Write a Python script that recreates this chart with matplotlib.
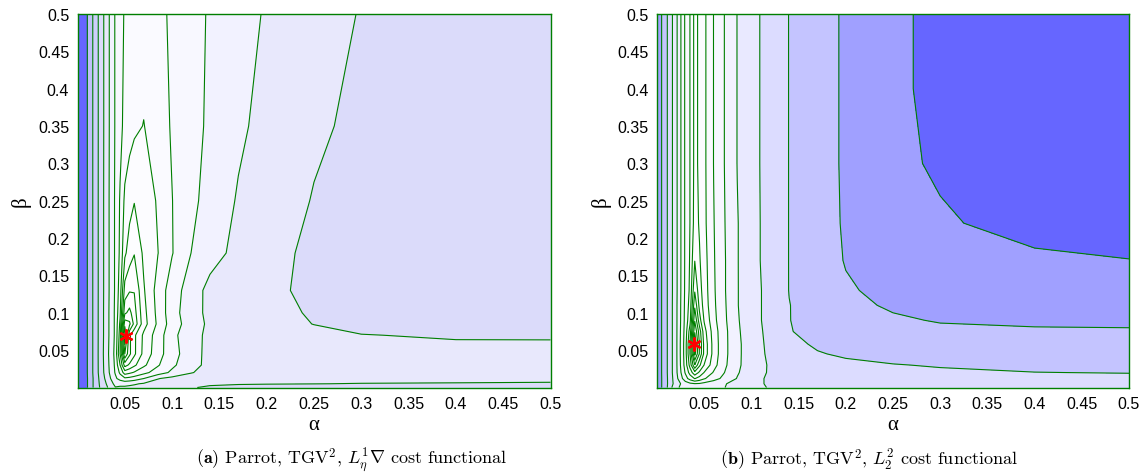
import numpy as np
import matplotlib
matplotlib.use("Agg")
import matplotlib.pyplot as plt

plt.rcParams['mathtext.fontset'] = 'cm'
plt.rcParams['font.family'] = ['Liberation Sans', 'DejaVu Sans']

# ---- panel (a): grid nodes and cost level ----
alpha_a = [0, 0.02, 0.04, 0.045, 0.05, 0.055, 0.06, 0.07, 0.085, 0.1,
           0.12, 0.14, 0.17, 0.2, 0.25, 0.3, 0.4, 0.5]
beta_a = [0, 0.005, 0.012, 0.02, 0.03, 0.045, 0.07, 0.085, 0.1, 0.13,
          0.18, 0.25, 0.35, 0.5]
level_a = [
    [15.8, 12.4, 10.05, 10.1, 10.15, 10.2, 10.25, 10.35, 10.55, 10.75, 10.95, 11.1, 11.2, 11.25, 11.3, 11.3, 11.3, 11.3],
    [15.8, 12.4, 9.7, 9.8, 9.7, 9.8, 9.9, 10.1, 10.4, 10.6, 10.8, 10.9, 10.95, 10.97, 10.99, 11.02, 11.04, 11.06],
    [15.8, 12.4, 9.2, 8.6, 8.2, 8.3, 8.5, 9.0, 9.95, 10.3, 10.45, 10.55, 10.65, 10.7, 10.75, 10.8, 10.82, 10.85],
    [15.8, 12.33, 8.9, 7.8, 6.5, 6.8, 7.1, 7.7, 8.5, 9.2, 9.95, 10.3, 10.45, 10.5, 10.55, 10.6, 10.65, 10.7],
    [15.8, 12.33, 8.8, 7.0, 4.6, 5.2, 5.8, 6.8, 7.9, 8.8, 9.7, 10.25, 10.4, 10.5, 10.52, 10.55, 10.6, 10.62],
    [15.8, 12.33, 8.7, 6.0, 2.0, 3.8, 4.8, 6.3, 7.6, 8.6, 9.6, 10.3, 10.45, 10.5, 10.55, 10.6, 10.68, 10.7],
    [15.8, 12.33, 8.8, 6.5, 0.0, 3.8, 4.8, 6.2, 7.5, 8.7, 9.7, 10.2, 10.4, 10.5, 10.7, 10.97, 11.1, 11.1],
    [15.8, 12.33, 8.8, 6.8, 1.3, 1.8, 3.3, 5.6, 7.2, 8.5, 9.5, 10.2, 10.45, 10.6, 11.02, 11.3, 11.45, 11.5],
    [15.8, 12.33, 8.8, 7.2, 3.2, 2.7, 3.6, 5.7, 7.3, 8.6, 9.6, 10.25, 10.5, 10.7, 11.1, 11.35, 11.45, 11.5],
    [15.8, 12.33, 8.85, 7.5, 4.6, 4.1, 4.05, 5.9, 7.4, 8.5, 9.5, 10.3, 10.6, 10.8, 11.2, 11.35, 11.45, 11.5],
    [15.8, 12.33, 8.85, 7.8, 6.2, 5.5, 5.05, 6.2, 6.98, 7.95, 9.0, 9.6, 10.3, 10.7, 11.2, 11.35, 11.45, 11.5],
    [15.8, 12.33, 8.85, 7.9, 6.8, 6.4, 6.05, 6.2, 7.15, 7.98, 8.8, 9.3, 10.1, 10.5, 11.05, 11.3, 11.45, 11.5],
    [15.8, 12.33, 8.9, 8.3, 7.7, 7.4, 7.2, 6.97, 7.5, 8.1, 8.7, 9.15, 9.8, 10.35, 10.85, 11.2, 11.4, 11.5],
    [15.8, 12.33, 8.9, 8.35, 7.9, 7.7, 7.6, 7.5, 7.75, 8.15, 8.65, 9.1, 9.6, 10.1, 10.6, 11.05, 11.4, 11.5],
]
best_a = (0.051, 0.069)

# ---- panel (b) ----
alpha_b = [0, 0.01, 0.02, 0.03, 0.035, 0.04, 0.045, 0.05, 0.06, 0.07,
           0.085, 0.1, 0.12, 0.14, 0.17, 0.2, 0.25, 0.3, 0.4, 0.5]
beta_b = [0, 0.005, 0.012, 0.02, 0.03, 0.045, 0.058, 0.075, 0.09, 0.11,
          0.13, 0.17, 0.22, 0.3, 0.4, 0.5]
level_b = [
    [13.8, 12.2, 10.1, 9.8, 9.7, 9.6, 9.65, 9.7, 9.8, 9.95, 10.3, 10.8, 11.05, 11.25, 11.4, 11.5, 11.58, 11.62, 11.68, 11.7],
    [13.8, 12.2, 10.5, 9.5, 9.2, 9.05, 9.1, 9.3, 9.6, 9.9, 10.3, 10.8, 11.1, 11.3, 11.45, 11.55, 11.62, 11.68, 11.72, 11.75],
    [13.8, 12.2, 10.4, 8.4, 7.6, 6.95, 7.4, 7.9, 8.6, 9.2, 10.05, 10.7, 11.15, 11.35, 11.5, 11.6, 11.7, 11.75, 11.8, 11.85],
    [13.8, 12.17, 10.3, 7.9, 6.6, 5.3, 6.2, 7.05, 8.1, 8.9, 9.9, 10.6, 11.1, 11.4, 11.6, 11.72, 11.82, 11.9, 11.99, 12.02],
    [13.8, 12.17, 10.3, 7.6, 5.6, 3.02, 4.8, 6.05, 7.6, 8.7, 9.8, 10.55, 11.1, 11.45, 11.7, 11.85, 11.97, 12.05, 12.15, 12.2],
    [13.8, 12.17, 10.3, 7.5, 4.95, 0.7, 3.1, 5.3, 7.4, 8.6, 9.8, 10.5, 11.2, 11.65, 11.95, 12.1, 12.25, 12.35, 12.45, 12.5],
    [13.8, 12.17, 10.3, 7.5, 4.9, 0.0, 3.05, 5.3, 7.4, 8.6, 9.8, 10.5, 11.25, 11.8, 12.1, 12.35, 12.55, 12.65, 12.75, 12.78],
    [13.8, 12.17, 10.3, 7.6, 5.5, 1.1, 3.5, 5.6, 7.5, 8.6, 9.85, 10.55, 11.3, 11.95, 12.3, 12.55, 12.75, 12.85, 12.93, 12.95],
    [13.8, 12.17, 10.3, 7.7, 6.3, 2.1, 4.6, 6.1, 7.7, 8.7, 9.9, 10.6, 11.35, 11.98, 12.35, 12.65, 12.9, 13.05, 13.1, 13.1],
    [13.8, 12.17, 10.3, 7.75, 6.6, 3.2, 5.3, 6.4, 7.8, 8.75, 9.95, 10.6, 11.35, 11.98, 12.4, 12.8, 13.1, 13.25, 13.35, 13.4],
    [13.8, 12.17, 10.33, 7.8, 6.8, 4.1, 5.6, 6.5, 7.85, 8.8, 9.95, 10.6, 11.35, 12.02, 12.5, 12.9, 13.25, 13.4, 13.6, 13.65],
    [13.8, 12.17, 10.33, 7.83, 6.9, 5.02, 5.9, 6.6, 7.9, 8.8, 9.95, 10.65, 11.4, 12.02, 12.55, 13.05, 13.4, 13.6, 13.85, 13.98],
    [13.8, 12.17, 10.33, 7.83, 6.98, 5.6, 6.1, 6.75, 7.95, 8.85, 9.95, 10.65, 11.4, 12.02, 12.6, 13.1, 13.5, 13.9, 14.3, 14.45],
    [13.8, 12.17, 10.33, 7.83, 6.98, 5.7, 6.2, 6.78, 8.02, 8.9, 10.02, 10.68, 11.4, 12.02, 12.6, 13.13, 13.8, 14.12, 14.45, 14.65],
    [13.8, 12.17, 10.33, 7.83, 6.98, 5.7, 6.2, 6.78, 8.02, 8.9, 10.02, 10.68, 11.4, 12.02, 12.6, 13.13, 13.85, 14.2, 14.5, 14.7],
    [13.8, 12.17, 10.33, 7.83, 6.98, 5.7, 6.2, 6.78, 8.02, 8.9, 10.02, 10.68, 11.4, 12.02, 12.6, 13.13, 13.85, 14.2, 14.5, 14.7],
]
best_b = (0.039, 0.058)

line_levels = list(range(1, 15))
band_edges = [-1] + line_levels + [20]

# fill colour of each band, lowest first
colors_a = ['#FFFFFF', '#FFFFFF', '#FFFFFF', '#FEFEFF', '#FEFEFF', '#FDFDFF', '#FCFCFF',
            '#FAFAFF', '#F8F8FF', '#F2F2FF', '#E8E8FC', '#DBDBFA', '#CECEFC', '#C0C0F8', '#6666FF']
colors_b = ['#FFFFFF', '#FFFFFF', '#FEFEFF', '#FEFEFF', '#FDFDFF', '#FDFDFF', '#FCFCFF',
            '#FAFAFF', '#F7F7FF', '#F2F2FF', '#E9E9FF', '#DCDCFF', '#C4C4FF', '#A0A0FF', '#6666FF']

ticks = [0.05, 0.1, 0.15, 0.2, 0.25, 0.3, 0.35, 0.4, 0.45, 0.5]
tick_labels = ['0.05', '0.1', '0.15', '0.2', '0.25', '0.3', '0.35', '0.4', '0.45', '0.5']

captions = [r'$\mathbf{(a)}$ Parrot, TGV$^2$, $L^1_\eta\nabla$ cost functional',
            r'$\mathbf{(b)}$ Parrot, TGV$^2$, $L^2_2$ cost functional']

green = '#007F00'

fig = plt.figure(figsize=(11.45, 4.77), dpi=100)
W, H = 1145.0, 477.0
ax1 = fig.add_axes([77.5 / W, 88.5 / H, 473 / W, 373.5 / H])
ax2 = fig.add_axes([657 / W, 88.5 / H, 472 / W, 373.5 / H])

panels = [(ax1, alpha_a, beta_a, level_a, colors_a, best_a),
          (ax2, alpha_b, beta_b, level_b, colors_b, best_b)]

for i, (ax, al, be, lev, cols, best) in enumerate(panels):
    X, Y = np.meshgrid(al, be)
    Z = np.array(lev)
    ax.contourf(X, Y, Z, levels=band_edges, colors=cols)
    ax.contour(X, Y, Z, levels=line_levels, colors=green, linewidths=0.8,
               linestyles='solid')
    ax.plot(best[0], best[1], marker=(6, 2, 0), color='red', markersize=10,
            markeredgewidth=1.6, linestyle='none')
    ax.set_xlim(0, 0.5)
    ax.set_ylim(0, 0.5)
    ax.set_xticks(ticks)
    ax.set_xticklabels(tick_labels)
    ax.set_yticks(ticks)
    ax.set_yticklabels(tick_labels)
    ax.tick_params(length=0, labelsize=11.5, pad=6)
    for s in ax.spines.values():
        s.set_color(green)
        s.set_linewidth(1.0)
    ax.set_xlabel('α', fontsize=15, labelpad=3, family='Liberation Serif')
    ax.set_ylabel('β', fontsize=15, labelpad=5, family='Liberation Serif')
    cx = ax.get_position().x0 + ax.get_position().width / 2
    fig.text(cx + (38 if i == 0 else -24) / W, 1 - 460 / H, captions[i],
             ha='center', va='center', fontsize=13, family='cmr10')

fig.savefig('out.png', dpi=100)
